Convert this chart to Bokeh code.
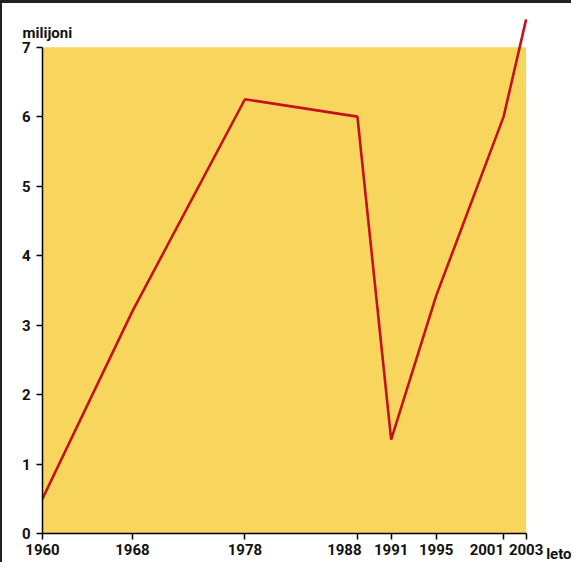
from bokeh.plotting import figure
from bokeh.models import Range1d, FixedTicker, Label
from bokeh.embed import file_html
from bokeh.resources import INLINE

years = [1960, 1968, 1978, 1988, 1991, 1995, 2001, 2003]
millions = [0.5, 3.2, 6.25, 6.0, 1.35, 3.42, 6.0, 7.4]
y_ticks = [0, 1, 2, 3, 4, 5, 6, 7]
y_label = "milijoni"
x_label = "leto"

FONT = "Roboto"
FS = "15px"
NB = "\u00a0"

p = figure(width=571, height=562, output_backend="svg", toolbar_location=None,
           x_range=Range1d(1960, 2004.367), y_range=Range1d(0, 7.412),
           min_border_left=42, min_border_right=30, min_border_top=17, min_border_bottom=29)
p.border_fill_alpha = 0
p.styles = {"box-shadow": "inset 2px 3px 0 0 #222"}
p.background_fill_color = "white"
p.outline_line_color = None
p.grid.visible = False

# yellow panel
p.quad(left=[years[0]], right=[years[-1]], bottom=[y_ticks[0]], top=[y_ticks[-1]],
       fill_color="#F8D55C", line_color=None)

p.line(years, millions, line_color="#C4121C", line_width=2.6)

p.xaxis.ticker = FixedTicker(ticks=years)
p.yaxis.ticker = FixedTicker(ticks=y_ticks)
p.xaxis.bounds = (years[0], years[-1])
p.yaxis.bounds = (y_ticks[0], y_ticks[-1])
# 1988 and 2001 labels sit left of their ticks in the original
p.xaxis.major_label_overrides = {1988: "1988" + NB * 7, 2001: "2001" + NB * 9}
for ax in (p.xaxis, p.yaxis):
    ax.axis_line_color = "black"
    ax.axis_line_width = 1.5
    ax.major_tick_line_color = "black"
    ax.major_tick_line_width = 1.5
    ax.major_tick_in = 0
    ax.major_tick_out = 6
    ax.minor_tick_line_color = None
    ax.major_label_text_font = FONT
    ax.major_label_text_font_size = FS
    ax.major_label_text_font_style = "bold"
    ax.major_label_text_color = "#111"
p.xaxis.major_label_standoff = 1
p.yaxis.major_label_standoff = 6

p.add_layout(Label(x=years[0], y=y_ticks[-1], x_offset=-20, y_offset=14, text=y_label,
                   text_baseline="alphabetic", text_font=FONT, text_font_size=FS,
                   text_font_style="bold", text_color="#111"), "above")
p.add_layout(Label(x=years[-1], y=y_ticks[0], x_offset=20, y_offset=-20, text=x_label,
                   text_baseline="alphabetic", text_font=FONT, text_font_size=FS,
                   text_font_style="bold", text_color="#111"), "right")

open("out.html", "w").write(file_html(p, INLINE))
